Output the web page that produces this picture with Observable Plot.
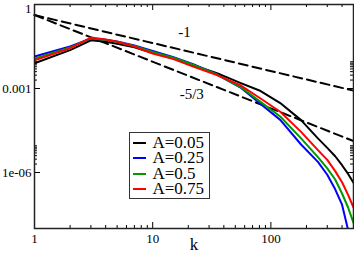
<!DOCTYPE html>
<html><head><meta charset="utf-8">
<script src="https://cdn.jsdelivr.net/npm/d3@7"></script>
<script src="https://cdn.jsdelivr.net/npm/@observablehq/plot@0.6"></script>
<style>
body{margin:0;background:#fff;}
#wrap{position:relative;width:354px;height:257px;overflow:hidden;}
#legend{position:absolute;left:129px;top:132px;width:81px;height:67px;box-sizing:border-box;border:1px solid #333;background:#fff;font-family:"Liberation Serif",serif;font-size:17px;color:#000;}
.sw{position:absolute;left:3px;width:13px;height:2px;}
#legtext{position:absolute;left:22.5px;top:2px;white-space:pre;line-height:15.4px;}
</style></head><body><div id="wrap"></div>
<script>
// wavenumbers
const k = [1, 2, 3, 4, 5, 7, 10, 15, 22, 35, 55, 80, 120, 180, 250, 300, 350, 400, 450, 500];
const seriesNames = ["A=0.05", "A=0.25", "A=0.5", "A=0.75"];
const seriesColors = ["#000000", "#0000ff", "#009900", "#ff0000"];
const eA005 = [7.94e-3, 2.34e-2, 5.25e-2, 4.68e-2, 3.98e-2, 2.95e-2, 1.86e-2, 1.20e-2, 6.76e-3, 3.55e-3, 1.58e-3, 8.51e-4, 3.02e-4, 7.41e-5, 1.66e-5, 7.59e-6, 3.80e-6, 1.82e-6, 8.91e-7, 4.27e-7];
const eA025 = [1.38e-2, 3.16e-2, 6.03e-2, 5.50e-2, 4.79e-2, 3.47e-2, 2.19e-2, 1.32e-2, 7.41e-3, 3.16e-3, 1.10e-3, 3.02e-4, 7.59e-5, 1.00e-5, 2.40e-6, 8.32e-7, 2.51e-7, 7.08e-8, 8.91e-9, 2.51e-9];
const eA05  = [1.17e-2, 2.95e-2, 6.17e-2, 5.37e-2, 4.57e-2, 3.31e-2, 2.00e-2, 1.26e-2, 7.08e-3, 3.16e-3, 1.15e-3, 3.55e-4, 1.00e-4, 1.66e-5, 3.55e-6, 1.41e-6, 5.62e-7, 1.78e-7, 5.62e-8, 1.58e-8];
const eA075 = [1.02e-2, 2.75e-2, 6.61e-2, 5.62e-2, 4.68e-2, 3.16e-2, 1.78e-2, 1.12e-2, 6.03e-3, 3.02e-3, 1.32e-3, 4.68e-4, 1.48e-4, 2.82e-5, 6.31e-6, 2.82e-6, 1.12e-6, 4.47e-7, 1.58e-7, 5.62e-8];
const seriesValues = [eA005, eA025, eA05, eA075];

// reference power-law lines
const slopeK = [1, 500];
const slopeMinus1 = [0.42, 8.4e-4];
const slopeMinus53 = [0.42, 1.33e-5];
const slopeLabels = ["-1", "-5/3"];
const slopeLabelK = [18.6, 21.4];
const slopeLabelE = [0.105, 6.2e-4];

// ticks
const xTickValues = [1, 10, 100];
const xTickLabels = ["1", "10", "100"];
const xMinor = [2,3,4,5,6,7,8,9,20,30,40,50,60,70,80,90,200,300,400];
const yTickValues = [1, 1e-3, 1e-6];
const yTickLabels = ["1", "0.001", "1e-06"];
const yMinor = [2e-6,3e-6,4e-6,5e-6,6e-6,7e-6,8e-6,9e-6,2e-3,3e-3,4e-3,5e-3,6e-3,7e-3,8e-3,9e-3];

const W = 354, H = 257, mL = 34, mR = 1, mT = 4, mB = 29;
const pw = W - mL - mR, ph = H - mT - mB;
const font = "Liberation Serif";

const curveMarks = seriesValues.map((vals, i) =>
  Plot.line(k.map((kk, j) => ({k: kk, e: vals[j]})), {x: "k", y: "e", stroke: seriesColors[i], strokeWidth: 2, clip: true})
);
const slopeData = (vals) => slopeK.map((kk, j) => ({k: kk, e: vals[j]}));
const yFmt = d => yTickLabels[yTickValues.indexOf(d)];

const plot = Plot.plot({
  width: W, height: H,
  marginLeft: mL, marginRight: mR, marginTop: mT, marginBottom: mB,
  style: {fontFamily: font, background: "#fff", color: "#000"},
  x: {type: "log", domain: [1, 500]},
  y: {type: "log", domain: [1e-8, 1]},
  marks: [
    Plot.line(slopeData(slopeMinus1), {x: "k", y: "e", stroke: "#000", strokeWidth: 2, strokeDasharray: "9,5"}),
    Plot.line(slopeData(slopeMinus53), {x: "k", y: "e", stroke: "#000", strokeWidth: 2, strokeDasharray: "9,5"}),
    ...curveMarks,
    Plot.text(slopeLabels.map((t, i) => ({t, k: slopeLabelK[i], e: slopeLabelE[i]})), {x: "k", y: "e", text: "t", fontSize: 15, fill: "#000"}),
    // ticks inward (bottom/top/left/right)
    Plot.ruleX(xTickValues, {x: d => d, insetTop: ph - 6, stroke: "#000", strokeWidth: 1}),
    Plot.ruleX(xMinor, {x: d => d, insetTop: ph - 3, stroke: "#000", strokeWidth: 1}),
    Plot.ruleX(xTickValues, {x: d => d, insetBottom: ph - 6, stroke: "#000", strokeWidth: 1}),
    Plot.ruleX(xMinor, {x: d => d, insetBottom: ph - 3, stroke: "#000", strokeWidth: 1}),
    Plot.ruleY(yTickValues, {y: d => d, insetRight: pw - 6, stroke: "#000", strokeWidth: 1}),
    Plot.ruleY(yMinor, {y: d => d, insetRight: pw - 3, stroke: "#000", strokeWidth: 1}),
    Plot.ruleY(yTickValues, {y: d => d, insetLeft: pw - 6, stroke: "#000", strokeWidth: 1}),
    Plot.ruleY(yMinor, {y: d => d, insetLeft: pw - 3, stroke: "#000", strokeWidth: 1}),
    Plot.frame({stroke: "#222", strokeWidth: 1.5}),
    Plot.axisX({ticks: xTickValues, tickSize: 0, tickPadding: 5, fontSize: 13, fontFamily: font,
      tickFormat: d => xTickLabels[xTickValues.indexOf(d)], label: null}),
    Plot.axisY({ticks: yTickValues.slice(1), tickSize: 0, tickPadding: 3, fontSize: 13, fontFamily: font,
      tickFormat: yFmt, label: null}),
    Plot.axisY({ticks: yTickValues.slice(0, 1), tickSize: 0, tickPadding: 3, fontSize: 13, fontFamily: font,
      tickFormat: yFmt, label: null, dy: 4}),
    Plot.text(["k"], {frameAnchor: "bottom", dy: 21, fontSize: 17, fontFamily: font, fill: "#000"})
  ]
});

const wrap = document.getElementById("wrap");
wrap.appendChild(plot);
const legend = document.createElement("div");
legend.id = "legend";
const rowH = 15.4, firstCenter = 9.7;
seriesNames.forEach((name, i) => {
  const sw = document.createElement("span");
  sw.className = "sw";
  sw.style.background = seriesColors[i];
  sw.style.top = (firstCenter + i * rowH - 1) + "px";
  legend.appendChild(sw);
});
const tx = document.createElement("div");
tx.id = "legtext";
tx.textContent = seriesNames.join("\n");
legend.appendChild(tx);
wrap.appendChild(legend);
</script></body></html>
